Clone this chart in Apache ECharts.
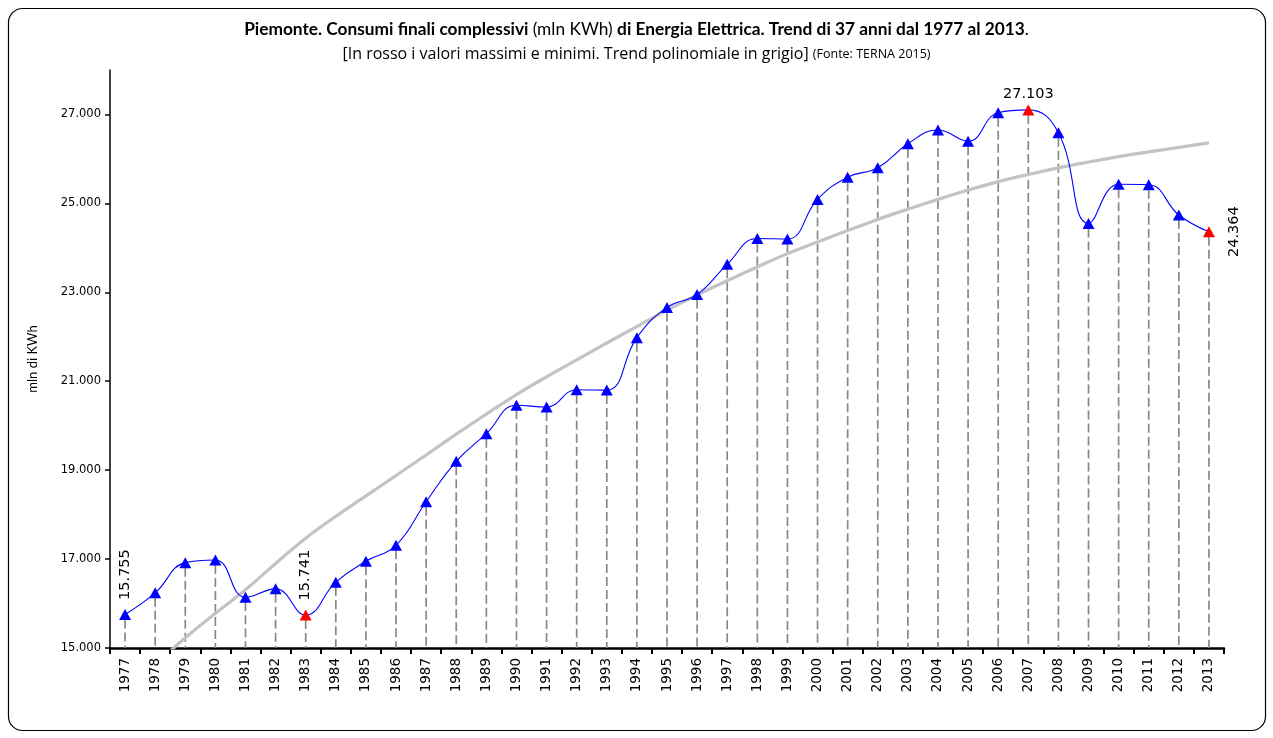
<!DOCTYPE html>
<html>
<head>
<meta charset="utf-8">
<title>Piemonte - Consumi finali di Energia Elettrica</title>
<script src="https://cdn.jsdelivr.net/npm/echarts@6/dist/echarts.min.js"></script>
<style>
  html, body { margin: 0; padding: 0; background: #ffffff; }
  #chart { width: 1273px; height: 738px; }
</style>
</head>
<body>
<div id="chart"></div>
<script>
// Anni della serie storica
const anni = ['1977','1978','1979','1980','1981','1982','1983','1984','1985','1986',
  '1987','1988','1989','1990','1991','1992','1993','1994','1995','1996',
  '1997','1998','1999','2000','2001','2002','2003','2004','2005','2006',
  '2007','2008','2009','2010','2011','2012','2013'];

// Consumi finali complessivi (mln KWh)
const consumi = [15755, 16240, 16920, 16980, 16140, 16330, 15741, 16480, 16950, 17310,
  18290, 19200, 19820, 20460, 20420, 20810, 20800, 21980, 22660, 22950,
  23630, 24210, 24200, 25090, 25590, 25800, 26340, 26650, 26400, 27040,
  27103, 26590, 24550, 25430, 25420, 24740, 24364];

// Trend polinomiale (valori per anno)
const trend = [14000, 14620, 15230, 15780, 16310, 16900, 17470, 17960, 18420, 18880,
  19340, 19810, 20260, 20700, 21100, 21480, 21860, 22230, 22600, 22940,
  23260, 23570, 23870, 24130, 24390, 24640, 24870, 25090, 25300, 25490,
  25650, 25800, 25930, 26050, 26160, 26260, 26360];

// Valori massimi e minimi (in rosso) e anni con etichetta del valore
const anniInRosso = ['1983', '2007', '2013'];
const anniEtichettati = ['1977', '1983', '2007', '2013'];

// Tacche dell'asse verticale
const tickY = [15000, 17000, 19000, 21000, 23000, 25000, 27000];
const yMin = 15000, yMax = 28000;

function formatIt(v) {
  return String(Math.round(v)).replace(/\B(?=(\d{3})+(?!\d))/g, '.');
}

const labelStyles = {
  '1977': { position: 'top', rotate: 90, align: 'left', verticalAlign: 'middle', distance: 9 },
  '1983': { position: 'top', rotate: 90, align: 'left', verticalAlign: 'middle', distance: 9 },
  '2007': { position: 'top', rotate: 0, align: 'center', verticalAlign: 'bottom', distance: 3 },
  '2013': { position: 'right', rotate: 90, align: 'center', verticalAlign: 'top', distance: 12 }
};

const puntiConsumi = consumi.map(function (v, i) {
  const anno = anni[i];
  const item = { value: v };
  if (anniInRosso.indexOf(anno) >= 0) {
    item.itemStyle = { color: '#ff0000' };
  }
  if (anniEtichettati.indexOf(anno) >= 0) {
    item.label = Object.assign({
      show: true,
      formatter: formatIt(v),
      color: '#000000',
      fontFamily: 'DejaVu Sans',
      fontSize: 14.5
    }, labelStyles[anno]);
  }
  return item;
});

const chart = echarts.init(document.getElementById('chart'), null, { renderer: 'canvas' });

chart.setOption({
  backgroundColor: '#ffffff',
  animation: false,
  title: [{
    left: 'center',
    top: 16,
    text: '{b|Piemonte. Consumi finali complessivi }{n|(mln KWh) }{b|di Energia Elettrica. Trend di 37 anni dal 1977 al 2013}{n|.}',
    textStyle: {
      rich: {
        b: { fontFamily: 'Lato', fontWeight: 'bold', fontSize: 17.3, color: '#000' },
        n: { fontFamily: 'Lato', fontWeight: 'normal', fontSize: 17.3, color: '#000' }
      }
    }
  }, {
    left: 'center',
    top: 41,
    text: '{s|[In rosso i valori massimi e minimi. Trend polinomiale in grigio] }{f|(Fonte: TERNA 2015)}',
    textStyle: {
      fontWeight: 'normal',
      rich: {
        s: { fontFamily: 'Open Sans', fontWeight: 'normal', fontSize: 16, color: '#000' },
        f: { fontFamily: 'Open Sans', fontWeight: 'normal', fontSize: 12.5, color: '#000' }
      }
    }
  }],
  graphic: [{
    type: 'rect',
    shape: { x: 8.5, y: 8.5, width: 1257, height: 722, r: 14 },
    style: { fill: 'none', stroke: '#000000', lineWidth: 1.2 },
    silent: true,
    z: -1
  }],
  grid: { left: 110, right: 49, top: 70, bottom: 90, containLabel: false },
  xAxis: {
    type: 'category',
    data: anni,
    boundaryGap: true,
    axisLine: { lineStyle: { color: '#000000', width: 2.5 } },
    axisTick: { show: true, alignWithLabel: false, length: 6, lineStyle: { color: '#000000', width: 2 } },
    axisLabel: {
      rotate: 90,
      margin: 10,
      interval: 0,
      color: '#000000',
      fontFamily: 'DejaVu Sans',
      fontSize: 13.5
    },
    splitLine: { show: false }
  },
  yAxis: {
    type: 'value',
    min: yMin,
    max: yMax,
    name: 'mln di KWh',
    nameLocation: 'middle',
    nameGap: 71,
    nameRotate: 90,
    nameTextStyle: { fontFamily: 'Lato', fontSize: 13, color: '#000000' },
    axisLine: { show: true, lineStyle: { color: '#000000', width: 1.5 } },
    axisTick: { show: true, length: 5, customValues: tickY, lineStyle: { color: '#000000', width: 1.5 } },
    axisLabel: {
      customValues: tickY,
      formatter: formatIt,
      margin: 9,
      color: '#000000',
      fontFamily: 'DejaVu Sans',
      fontSize: 11.5
    },
    splitLine: { show: false }
  },
  series: [{
    // linee di riferimento verticali dal punto all'asse
    name: 'linee',
    type: 'custom',
    z: 1,
    silent: true,
    clip: true,
    data: consumi.map(function (v, i) { return [i, v]; }),
    encode: { x: 0, y: 1 },
    renderItem: function (params, api) {
      const top = api.coord([api.value(0), api.value(1)]);
      const bottom = api.coord([api.value(0), yMin]);
      return {
        type: 'line',
        shape: { x1: top[0], y1: top[1] + 5, x2: bottom[0], y2: bottom[1] },
        style: { stroke: '#888888', lineWidth: 1.7, lineDash: [9, 4] }
      };
    }
  }, {
    name: 'Trend',
    type: 'line',
    z: 2,
    data: trend,
    smooth: 0.4,
    showSymbol: false,
    clip: true,
    lineStyle: { color: '#c3c3c3', width: 3.2 },
    silent: true
  }, {
    name: 'Consumi',
    type: 'line',
    z: 3,
    data: puntiConsumi,
    smooth: 0.45,
    symbol: 'triangle',
    symbolSize: [12, 11],
    showSymbol: true,
    itemStyle: { color: '#0000ff' },
    lineStyle: { color: '#0000ff', width: 1.1 },
    label: { show: false },
    silent: true
  }]
});
</script>
</body>
</html>
